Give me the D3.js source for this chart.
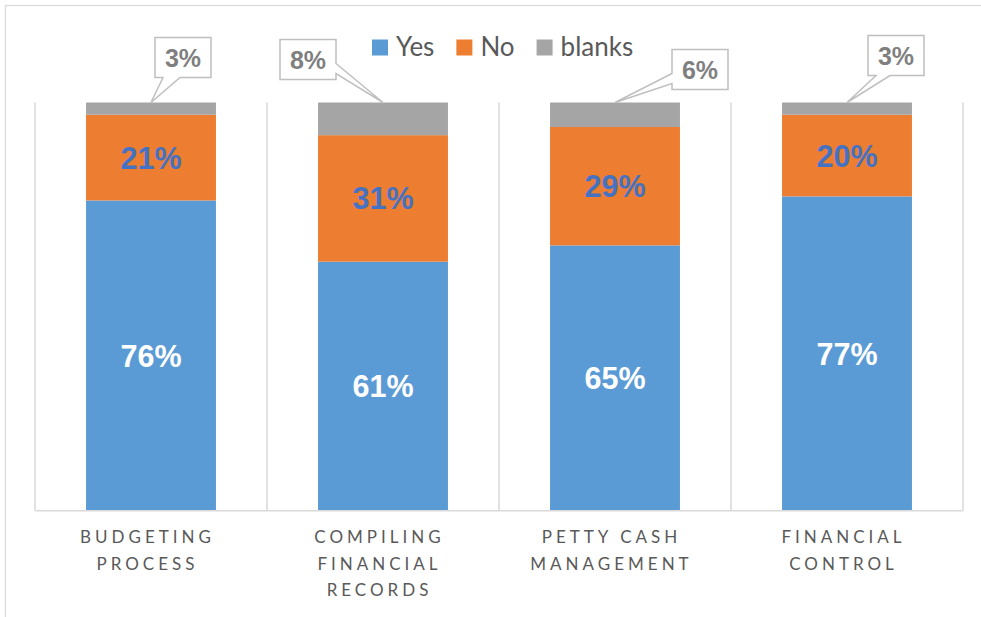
<!DOCTYPE html>
<html>
<head>
<meta charset="utf-8">
<script src="https://cdn.jsdelivr.net/npm/d3@7"></script>
<style>
  html, body { margin: 0; padding: 0; background: #ffffff; }
  svg { display: block; }
</style>
</head>
<body>
<svg id="chart" width="981" height="617"></svg>
<script>
// Survey results per financial practice
const categories = [
  ["BUDGETING", "PROCESS"],
  ["COMPILING", "FINANCIAL", "RECORDS"],
  ["PETTY CASH", "MANAGEMENT"],
  ["FINANCIAL", "CONTROL"]
];
const yesValues    = [76, 61, 65, 77];
const noValues     = [21, 31, 29, 20];
const blankValues  = [3, 8, 6, 3];
const seriesNames  = ["Yes", "No", "blanks"];
const seriesColors = ["#5B9BD5", "#ED7D31", "#A5A5A5"];

// Callout placement for the "blanks" labels: box centre offset from the bar top,
// and which edge of the box carries the pointer.
const calloutLayout = [
  { dx: 32,  dy: -45, side: "bottom", a: 8,  b: 25 },
  { dx: -75, dy: -43, side: "right",  a: 24, b: 34 },
  { dx: 85,  dy: -33, side: "left",   a: 24, b: 34 },
  { dx: 49,  dy: -47, side: "bottom", a: 8,  b: 22 }
];

const svg = d3.select("#chart");
const W = 981, H = 617;
const plot = { left: 35, right: 963, top: 102.5, bottom: 510.7 };

// outer chart frame
svg.append("rect")
  .attr("x", 5.5).attr("y", 5.5)
  .attr("width", W + 10).attr("height", H + 10)
  .attr("fill", "none").attr("stroke", "#D9D9D9").attr("stroke-width", 1.2);

const idx = d3.range(categories.length);
const bandScale = d3.scaleBand().domain(idx).range([plot.left, plot.right]).padding(0);
const x = d3.scaleBand().domain(idx).range([plot.left, plot.right])
  .paddingInner(0.44).paddingOuter(0.22);
const y = d3.scaleLinear().domain([0, 100]).range([plot.bottom, plot.top]);

// vertical category gridlines
const gridXs = idx.map(i => bandScale(i)).concat([plot.right]);
svg.append("g").selectAll("line").data(gridXs).join("line")
  .attr("x1", d => d).attr("x2", d => d)
  .attr("y1", plot.top).attr("y2", plot.bottom)
  .attr("stroke", "#D9D9D9").attr("stroke-width", 1.5);

// stacked data
const rows = idx.map(i => ({ i, Yes: yesValues[i], No: noValues[i], blanks: blankValues[i] }));
const stack = d3.stack().keys(seriesNames)(rows);

const layers = svg.append("g").selectAll("g").data(stack).join("g")
  .attr("fill", (d, k) => seriesColors[k]);
layers.selectAll("rect").data(d => d).join("rect")
  .attr("x", d => x(d.data.i))
  .attr("width", x.bandwidth())
  .attr("y", d => y(d[1]))
  .attr("height", d => y(d[0]) - y(d[1]));

// baseline
svg.append("line")
  .attr("x1", plot.left).attr("x2", plot.right)
  .attr("y1", plot.bottom).attr("y2", plot.bottom)
  .attr("stroke", "#D9D9D9").attr("stroke-width", 1.5);

// in-bar value labels
const labelFont = "'Liberation Sans', Arial, sans-serif";
const inBar = [
  { layer: stack[0], color: "#FFFFFF" },
  { layer: stack[1], color: "#4472C4" }
];
inBar.forEach(s => {
  svg.append("g").selectAll("text").data(s.layer).join("text")
    .attr("x", d => x(d.data.i) + x.bandwidth() / 2)
    .attr("y", d => (y(d[0]) + y(d[1])) / 2)
    .attr("text-anchor", "middle")
    .attr("dominant-baseline", "central")
    .attr("font-family", labelFont)
    .attr("font-weight", "bold")
    .attr("font-size", 30.5)
    .attr("fill", s.color)
    .text(d => (d[1] - d[0]) + "%");
});

// callouts for the "blanks" values
const bw = 56, bh = 40;
function calloutPath(cx, cy, tx, ty, L) {
  const x0 = cx - bw / 2, x1 = cx + bw / 2, y0 = cy - bh / 2, y1 = cy + bh / 2;
  const p = [[x0, y0], [x1, y0]];
  if (L.side === "right") p.push([x1, y0 + L.a], [tx, ty], [x1, y0 + L.b]);
  p.push([x1, y1]);
  if (L.side === "bottom") p.push([x0 + L.b, y1], [tx, ty], [x0 + L.a, y1]);
  p.push([x0, y1]);
  if (L.side === "left") p.push([x0, y0 + L.b], [tx, ty], [x0, y0 + L.a]);
  return "M" + p.map(q => q.join(",")).join("L") + "Z";
}
const blankLayer = stack[2];
const callouts = svg.append("g").selectAll("g").data(blankLayer).join("g");
callouts.each(function (d) {
  const i = d.data.i, L = calloutLayout[i];
  const tx = x(i) + x.bandwidth() / 2, ty = y(d[1]);
  const cx = tx + L.dx, cy = ty + L.dy;
  const g = d3.select(this);
  g.append("path")
    .attr("d", calloutPath(cx, cy, tx, ty, L))
    .attr("fill", "#FFFFFF")
    .attr("stroke", "#BFBFBF")
    .attr("stroke-width", 1.5)
    .attr("stroke-linejoin", "miter");
  g.append("text")
    .attr("x", cx).attr("y", cy)
    .attr("text-anchor", "middle")
    .attr("dominant-baseline", "central")
    .attr("font-family", labelFont)
    .attr("font-weight", "bold")
    .attr("font-size", 25)
    .attr("fill", "#7F7F7F")
    .text((d[1] - d[0]) + "%");
});

// category axis labels (letter-spaced, upper case)
const axisFont = "Lato, 'Open Sans', sans-serif";
const ls = 4;
const catG = svg.append("g");
idx.forEach(i => {
  const cx = x(i) + x.bandwidth() / 2 - 5.5 + ls / 2;
  const t = catG.append("text")
    .attr("x", cx)
    .attr("y", 543)
    .attr("text-anchor", "middle")
    .attr("font-family", axisFont)
    .attr("font-size", 17)
    .attr("letter-spacing", ls)
    .attr("fill", "#595959");
  categories[i].forEach((line, k) => {
    t.append("tspan")
      .attr("x", cx)
      .attr("dy", k === 0 ? 0 : 26.5)
      .text(line);
  });
});

// legend
const legend = svg.append("g");
let lx = 372;
seriesNames.forEach((name, k) => {
  legend.append("rect")
    .attr("x", lx).attr("y", 39.5)
    .attr("width", 16).attr("height", 16)
    .attr("fill", seriesColors[k]);
  const t = legend.append("text")
    .attr("x", lx + 24).attr("y", 56)
    .attr("font-family", axisFont)
    .attr("font-size", 26)
    .attr("fill", "#595959")
    .text(name);
  lx += 24 + t.node().getComputedTextLength() + 22;
});
</script>
</body>
</html>
